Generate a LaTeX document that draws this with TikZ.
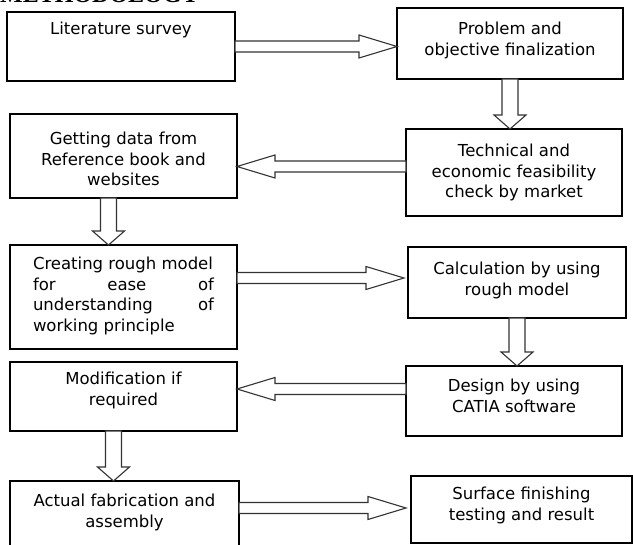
\documentclass[tikz,border=0pt]{standalone}
\usepackage{fontspec}
\setmainfont{DejaVu Sans}
\newfontfamily\headfont{Liberation Serif}
\usetikzlibrary{calc}

\begin{document}
\begin{tikzpicture}
[x=1pt,y=-1pt,
  stepbox/.style={draw=black,line width=1.2pt,inner sep=0pt,outer sep=0pt,
    anchor=north west,font=\fontsize{16.5}{20.5}\selectfont},
  hollow/.style n args={3}{draw=black!80,line width=1.1pt,fill=white,
    to path={let \p1=(\tikztostart), \p2=(\tikztotarget),
      \n1={veclen(\x2-\x1,\y2-\y1)},
      \n2={(\x2-\x1)/\n1}, \n3={(\y2-\y1)/\n1} in
      ({\x1-\n3*#1},{\y1+\n2*#1})
      -- ({\x2-\n2*#3-\n3*#1},{\y2-\n3*#3+\n2*#1})
      -- ({\x2-\n2*#3-\n3*#2},{\y2-\n3*#3+\n2*#2})
      -- (\p2)
      -- ({\x2-\n2*#3+\n3*#2},{\y2-\n3*#3-\n2*#2})
      -- ({\x2-\n2*#3+\n3*#1},{\y2-\n3*#3-\n2*#1})
      -- ({\x1+\n3*#1},{\y1-\n2*#1}) -- cycle}},
  harrow/.style={hollow={5.5}{11.5}{38}},
  varrow/.style={hollow={8}{16}{14}}]
\useasboundingbox (0,0) rectangle (633,545);
%% heading, cut by the top edge
\node[anchor=base west,inner sep=0pt,font=\fontsize{24}{24}\headfont\bfseries] (title) at (0,3) {METHODOLOGY};
%% boxes
\foreach \boxname/\bx/\by/\bw/\bh/\bpad/\btext in
  {lit/7/12/228/69/10/{Literature survey},
   prob/397/8/226/71/14/{Problem and\\objective finalization},
   data/10/114/227/84/18/{Getting data from\\Reference book and\\websites},
   tech/406/129/216/87/15/{Technical and\\economic feasibility\\check by market},
   rough/10/245/227/104/12/{\makebox[181pt][l]{Creating rough model}\\\makebox[181pt][s]{for\hfill ease\hfill of}\\\makebox[181pt][s]{understanding\hfill of}\\\makebox[181pt][l]{working principle}},
   calc/408/247/218/71/15/{Calculation by using\\rough model},
   modif/10/362/227/69/10/{Modification if\\required},
   catia/406/366/216/70/13/{Design by using\\CATIA software},
   fabr/10/481/229/94/13/{Actual fabrication and\\assembly},
   surf/411/476/221/67/11/{Surface finishing\\testing and result}}
{
  \node[stepbox] (\boxname) at (\bx,\by)
    {\parbox[t][\bh pt][t]{\bw pt}{\centering\vspace*{\bpad pt}\btext}};
}
%% arrows
\draw[harrow] (lit.east) to (lit.east -| prob.west);
\draw[varrow] (prob.south) to (prob.south |- tech.north);
\draw[harrow] ([yshift=6pt]tech.west) to ([yshift=6pt]tech.west -| data.east);
\draw[varrow] ([xshift=-15pt]data.south) to ([xshift=-15pt]data.south |- rough.north);
\draw[harrow] ([yshift=19pt]rough.east) to ([xshift=-4pt,yshift=19pt]rough.east -| calc.west);
\draw[varrow] (calc.south) to (calc.south |- catia.north);
\draw[harrow] ([yshift=12pt]catia.west) to ([yshift=12pt]catia.west -| modif.east);
\draw[varrow] ([xshift=-10pt]modif.south) to ([xshift=-10pt]modif.south |- fabr.north);
\draw[harrow] ([yshift=20pt]fabr.east) to ([xshift=-5pt,yshift=20pt]fabr.east -| surf.west);
\end{tikzpicture}
\end{document}
